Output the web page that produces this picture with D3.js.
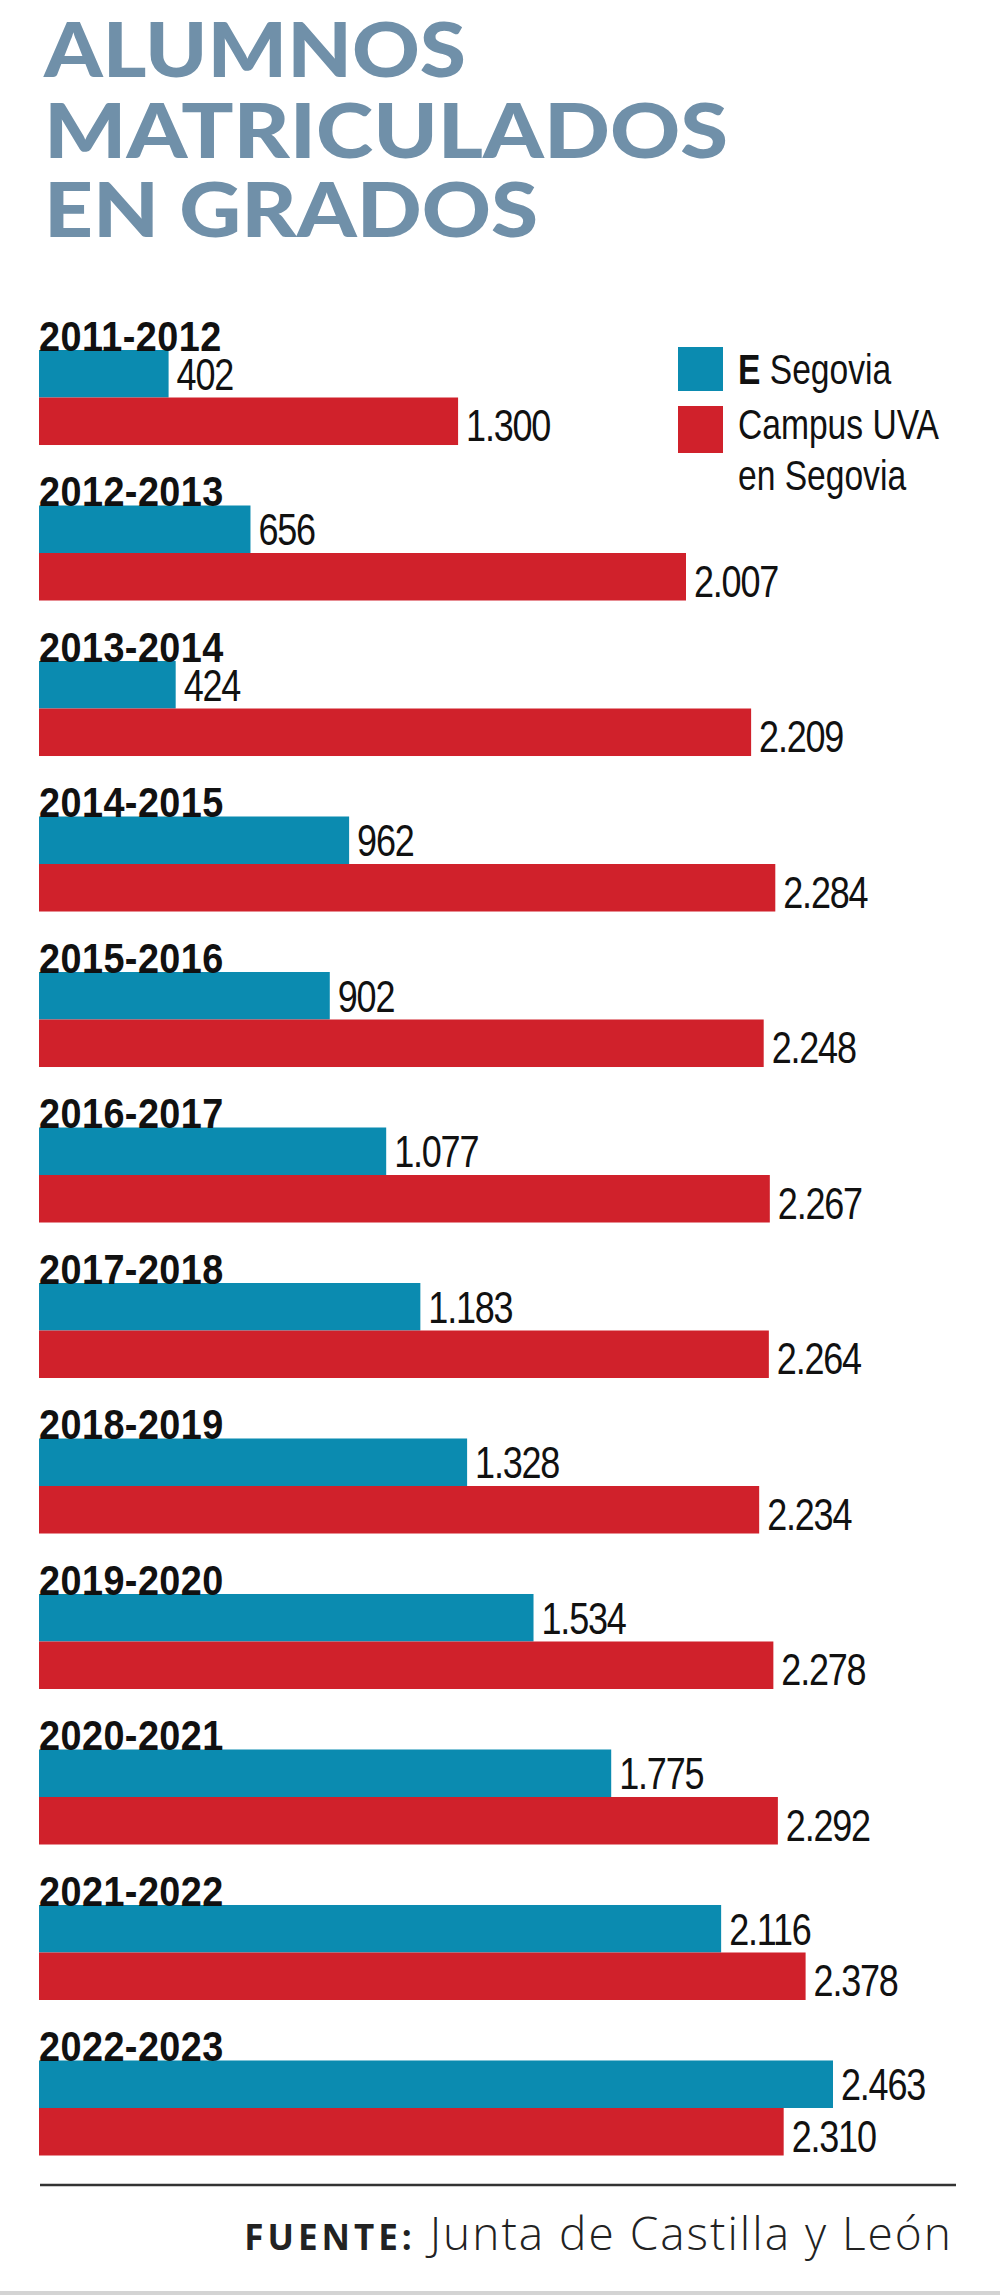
<!DOCTYPE html>
<html>
<head>
<meta charset="utf-8">
<script src="https://cdn.jsdelivr.net/npm/d3@7"></script>
<style>
  html, body { margin: 0; padding: 0; background: #fff; }
  svg { display: block; }
</style>
</head>
<body>
<svg id="chart" width="1000" height="2295"></svg>
<script>
// ---- data ----
const categories = ["2011-2012","2012-2013","2013-2014","2014-2015","2015-2016","2016-2017",
                    "2017-2018","2018-2019","2019-2020","2020-2021","2021-2022","2022-2023"];
const seriesNames = ["IE Segovia", "Campus UVA en Segovia"];
const ieSegovia = [402, 656, 424, 962, 902, 1077, 1183, 1328, 1534, 1775, 2116, 2463];
const campusUVA = [1300, 2007, 2209, 2284, 2248, 2267, 2264, 2234, 2278, 2292, 2378, 2310];
const titleLines = ["ALUMNOS", "MATRICULADOS", "EN GRADOS"];
const sourceLabel = "FUENTE:";
const sourceText = "Junta de Castilla y León";

// ---- setup ----
const svg = d3.select("#chart");
const colors = {"IE Segovia": "#0b8bb0", "Campus UVA en Segovia": "#d0212b"};
const locale = d3.formatLocale({decimal: ",", thousands: ".", grouping: [3], currency: ["", "€"]});
const fmt = locale.format(",d");
const narrow = "'Liberation Sans Narrow', 'Liberation Sans', Arial, sans-serif";

const rows = categories.map((c, i) => ({
  cat: c,
  values: [
    {series: seriesNames[0], value: ieSegovia[i]},
    {series: seriesNames[1], value: campusUVA[i]}
  ]
}));

// ---- title ----
const titleWidths = [422, 684, 494];
const titleBaselines = [77, 158, 237];
svg.append("g").selectAll("text")
  .data(titleLines)
  .join("text")
  .attr("x", 44)
  .attr("y", (d, i) => titleBaselines[i])
  .attr("textLength", (d, i) => titleWidths[i])
  .attr("lengthAdjust", "spacingAndGlyphs")
  .attr("font-family", "Lato, Roboto, 'Open Sans', sans-serif")
  .attr("font-weight", 900)
  .attr("font-size", 76)
  .attr("fill", "#7090a9")
  .text(d => d);

// ---- scales ----
const x = d3.scaleLinear().domain([0, 2463]).range([39, 833]);
const y0 = d3.scaleBand().domain(categories).range([350, 2155.5]).paddingInner(0.389).paddingOuter(0);
const y1 = d3.scaleBand().domain(seriesNames).range([0, y0.bandwidth()]);

const groups = svg.append("g").selectAll("g.group")
  .data(rows)
  .join("g")
  .attr("class", "group")
  .attr("transform", d => `translate(0,${y0(d.cat)})`);

// bars
groups.selectAll("rect")
  .data(d => d.values)
  .join("rect")
  .attr("x", x(0))
  .attr("y", d => y1(d.series))
  .attr("width", d => x(d.value) - x(0))
  .attr("height", y1.bandwidth())
  .attr("fill", d => colors[d.series]);

// value labels (horizontally condensed)
groups.selectAll("text.val")
  .data(d => d.values)
  .join("text")
  .attr("class", "val")
  .attr("transform", (d, i) =>
    `translate(${x(d.value) + 8},${y1(d.series) + y1.bandwidth() / 2 + (i === 0 ? 16 : 20)}) scale(0.8,1)`)
  .attr("font-family", narrow)
  .attr("font-size", 45)
  .attr("letter-spacing", -1.5)
  .attr("fill", "#111")
  .text(d => fmt(d.value));

// category labels
groups.append("text")
  .attr("transform", "translate(39,1) scale(0.9,1)")
  .attr("font-family", narrow)
  .attr("font-weight", "bold")
  .attr("font-size", 42)
  .attr("letter-spacing", 0.5)
  .attr("fill", "#111")
  .text(d => d.cat);

// ---- legend ----
const legend = svg.append("g");
const legendItems = [
  {series: seriesNames[0], y: 347, h: 44},
  {series: seriesNames[1], y: 406, h: 47}
];
legend.selectAll("rect")
  .data(legendItems)
  .join("rect")
  .attr("x", 678)
  .attr("y", d => d.y)
  .attr("width", 45)
  .attr("height", d => d.h)
  .attr("fill", d => colors[d.series]);

const legendText = (y) => legend.append("text")
  .attr("transform", `translate(738,${y}) scale(0.8,1)`)
  .attr("font-family", narrow).attr("font-size", 42).attr("fill", "#111");
const t1 = legendText(384);
t1.append("tspan").attr("font-weight", "bold").text("E");
t1.append("tspan").text(" Segovia");
legendText(439).text("Campus UVA");
legendText(490).text("en Segovia");

// ---- footer ----
svg.append("line")
  .attr("x1", 40).attr("x2", 956)
  .attr("y1", 2185).attr("y2", 2185)
  .attr("stroke", "#333").attr("stroke-width", 2.5);

const src = svg.append("text")
  .attr("x", 953).attr("y", 2250)
  .attr("text-anchor", "end")
  .attr("fill", "#222");
src.append("tspan")
  .attr("font-family", "'Open Sans', 'Noto Sans', sans-serif")
  .attr("font-weight", 700)
  .attr("font-size", 35)
  .attr("letter-spacing", 4)
  .text(sourceLabel);
src.append("tspan")
  .attr("font-family", "'Open Sans', 'Noto Sans', sans-serif")
  .attr("font-weight", 300)
  .attr("font-size", 46)
  .attr("letter-spacing", 2)
  .text(" " + sourceText);

svg.append("rect")
  .attr("x", 0).attr("y", 2291).attr("width", 1000).attr("height", 4)
  .attr("fill", "#d4d4d4");
</script>
</body>
</html>
